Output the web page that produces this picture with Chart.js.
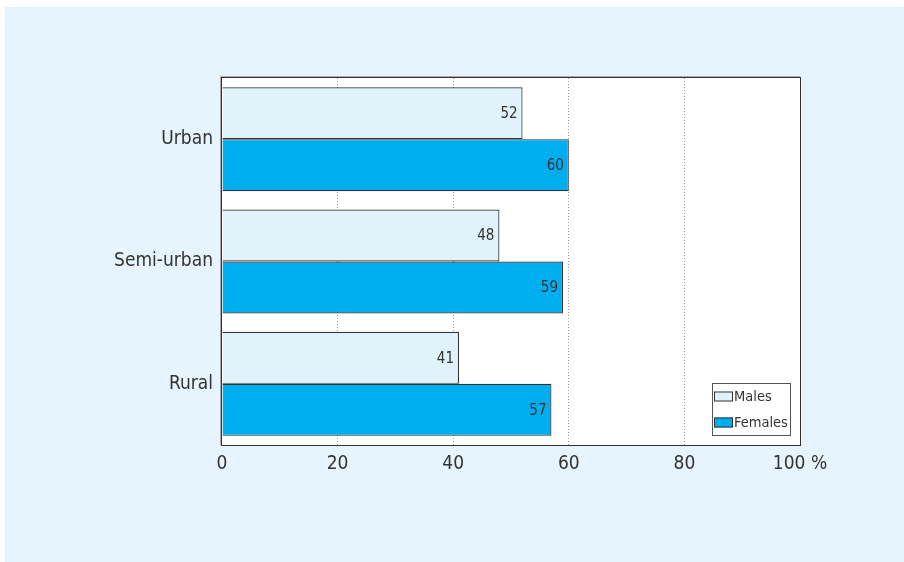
<!DOCTYPE html>
<html>
<head>
<meta charset="utf-8">
<script src="https://cdn.jsdelivr.net/npm/chart.js@4/dist/chart.umd.min.js"></script>
<style>
  html, body { margin: 0; padding: 0; background: #fff; }
  #panel {
    position: absolute; left: 5px; top: 7px;
    width: 899px; height: 555px;
    background: #e6f5fd;
  }
  #panel canvas { display: block; }
</style>
</head>
<body>
<div id="panel"><canvas id="areaChart" width="899" height="555"></canvas></div>
<script>
const FONT = "'DejaVu Sans Condensed', 'Liberation Sans', sans-serif";

const areas = ['Urban', 'Semi-urban', 'Rural'];
const males = [52, 48, 41];
const females = [60, 59, 57];
const xTicks = [0, 20, 40, 60, 80, 100];

// white plot background plus a full frame around it
const plotFrame = {
    id: 'plotFrame',
    beforeDatasetsDraw(chart) {
        const a = chart.chartArea, ctx = chart.ctx;
        ctx.save();
        ctx.globalCompositeOperation = 'destination-over';
        ctx.fillStyle = '#fff';
        ctx.fillRect(a.left, a.top, a.right - a.left, a.bottom - a.top);
        ctx.restore();
    },
    afterDraw(chart) {
        const a = chart.chartArea, ctx = chart.ctx;
        ctx.save();
        ctx.strokeStyle = '#aaa';
        ctx.lineWidth = 1;
        ctx.beginPath();
        ctx.moveTo(a.left - 1.5, a.bottom);
        ctx.lineTo(a.left - 1.5, a.top - 1.5);
        ctx.lineTo(a.right, a.top - 1.5);
        ctx.stroke();
        ctx.strokeStyle = '#333';
        ctx.strokeRect(a.left - 0.5, a.top - 0.5, a.right - a.left + 1, a.bottom - a.top + 1);
        ctx.restore();
    }
};

// value printed inside the end of each bar
const barValues = {
    id: 'barValues',
    afterDatasetsDraw(chart) {
        const ctx = chart.ctx;
        ctx.save();
        ctx.font = '15px ' + FONT;
        ctx.fillStyle = '#333';
        ctx.textAlign = 'right';
        ctx.textBaseline = 'middle';
        chart.data.datasets.forEach((ds, i) => {
            chart.getDatasetMeta(i).data.forEach((bar, j) => {
                ctx.fillText(ds.data[j], bar.x - 5, bar.y + 1);
            });
        });
        ctx.restore();
    }
};

// boxed legend in the lower right corner of the plot
const cornerLegend = {
    id: 'cornerLegend',
    afterDraw(chart) {
        const a = chart.chartArea, ctx = chart.ctx;
        const w = 78, h = 52;
        const x = a.right - 10 - w, y = a.bottom - 10 - h;
        ctx.save();
        ctx.fillStyle = '#fff';
        ctx.fillRect(x, y, w, h);
        ctx.strokeStyle = '#555';
        ctx.lineWidth = 1;
        ctx.strokeRect(x + 0.5, y + 0.5, w, h);
        ctx.font = '14.5px ' + FONT;
        ctx.textBaseline = 'middle';
        chart.data.datasets.forEach((ds, i) => {
            const cy = y + 13.5 + i * 26;
            ctx.fillStyle = ds.backgroundColor;
            ctx.fillRect(x + 2, cy - 5, 19, 10);
            ctx.strokeStyle = '#333';
            ctx.strokeRect(x + 2.5, cy - 4.5, 18, 9);
            ctx.fillStyle = '#333';
            ctx.fillText(ds.label, x + 22, cy + 1);
        });
        ctx.restore();
    }
};

new Chart(document.getElementById('areaChart'), {
    type: 'bar',
    data: {
        labels: areas,
        datasets: [{
            label: 'Males',
            data: males,
            backgroundColor: '#e0f2fa',
            borderColor: '#333',
            borderWidth: 1.2
        }, {
            label: 'Females',
            data: females,
            backgroundColor: '#00aeef',
            borderColor: '#333',
            borderWidth: 1.2
        }]
    },
    options: {
        indexAxis: 'y',
        responsive: false,
        animation: false,
        layout: { padding: { left: 0, top: 71, right: 104, bottom: 0 } },
        datasets: {
            bar: { barPercentage: 1, categoryPercentage: 0.85 }
        },
        plugins: {
            legend: { display: false },
            tooltip: { enabled: false }
        },
        scales: {
            x: {
                min: 0,
                max: 100,
                afterBuildTicks(axis) {
                    axis.ticks = xTicks.map(v => ({ value: v }));
                },
                afterFit(axis) { axis.height = 117; },
                border: { display: false, dash: [1, 2] },
                grid: {
                    drawTicks: false,
                    color: ctx => (ctx.tick && (ctx.tick.value === 0 || ctx.tick.value === 100)) ? 'rgba(0,0,0,0)' : '#999',
                    lineWidth: 1
                },
                ticks: {
                    padding: 8,
                    color: '#333',
                    font: { family: FONT, size: 19 },
                    callback: v => v === 100 ? '100 %' : v
                }
            },
            y: {
                afterFit(axis) { axis.width = 217; },
                border: { display: false },
                grid: { display: false, drawTicks: false },
                ticks: {
                    padding: 9,
                    color: '#333',
                    font: { family: FONT, size: 19 }
                }
            }
        }
    },
    plugins: [plotFrame, barValues, cornerLegend]
});
</script>
</body>
</html>
